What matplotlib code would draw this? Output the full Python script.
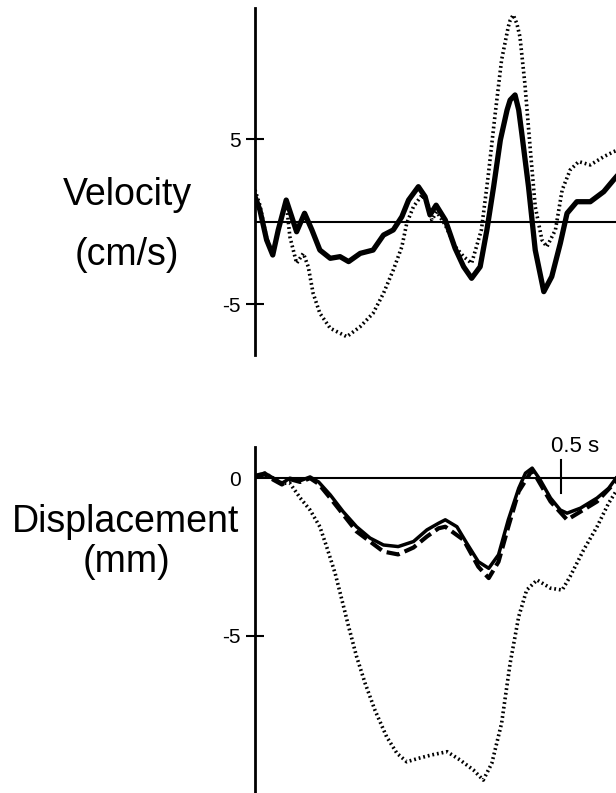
import matplotlib
matplotlib.use('Agg')
import matplotlib.pyplot as plt

plt.rcParams['font.family'] = ['Liberation Sans', 'DejaVu Sans']

# Швидкість, суцільна крива (час у секундах, см/с)
vel_solid_t = [0.000, 0.008, 0.019, 0.029, 0.038, 0.051, 0.060, 0.068, 0.081, 0.093,
               0.106, 0.123, 0.139, 0.153, 0.172, 0.193, 0.210, 0.226, 0.240, 0.251,
               0.267, 0.278, 0.286, 0.296, 0.311, 0.327, 0.341, 0.354, 0.368, 0.379,
               0.390, 0.401, 0.412, 0.417, 0.425, 0.431, 0.436, 0.447, 0.458, 0.472,
               0.485, 0.499, 0.510, 0.526, 0.548, 0.570, 0.586, 0.590]
vel_solid = [1.52, 0.71, -1.11, -2.02, -0.50, 1.31, 0.30, -0.61, 0.51, -0.50,
             -1.72, -2.22, -2.12, -2.42, -1.92, -1.72, -0.81, -0.50, 0.30, 1.31,
             2.12, 1.52, 0.41, 1.00, 0.10, -1.61, -2.73, -3.43, -2.73, -0.50,
             2.12, 4.95, 6.77, 7.37, 7.68, 6.77, 5.36, 2.12, -1.72, -4.24,
             -3.33, -1.31, 0.51, 1.21, 1.21, 1.82, 2.53, 2.70]

# Швидкість, пунктирна крива
vel_dot_t = [0.000, 0.008, 0.019, 0.029, 0.038, 0.051, 0.057, 0.068, 0.079, 0.087,
             0.095, 0.106, 0.123, 0.150, 0.172, 0.193, 0.210, 0.226, 0.240, 0.248,
             0.259, 0.273, 0.284, 0.289, 0.297, 0.311, 0.327, 0.341, 0.354, 0.370,
             0.381, 0.392, 0.403, 0.414, 0.417, 0.422, 0.428, 0.433, 0.441, 0.450,
             0.458, 0.469, 0.477, 0.491, 0.502, 0.515, 0.529, 0.548, 0.570, 0.586,
             0.590]
vel_dot = [1.92, 1.00, -1.00, -1.95, -0.50, 1.20, -0.91, -2.52, -1.92, -2.73,
           -4.34, -5.55, -6.46, -6.97, -6.36, -5.55, -4.34, -2.93, -1.52, -0.10,
           0.91, 1.62, 0.91, 0.10, 0.60, -0.20, -1.50, -2.12, -2.52, -0.50,
           2.73, 6.36, 9.80, 11.82, 12.20, 12.53, 12.00, 11.21, 8.39, 4.35,
           0.91, -1.11, -1.52, -0.50, 1.92, 3.13, 3.64, 3.44, 3.94, 4.24,
           4.30]

# Переміщення, суцільна крива (мм)
disp_solid_t = [0.000, 0.003, 0.016, 0.030, 0.044, 0.057, 0.074, 0.090, 0.104, 0.123,
                0.144, 0.166, 0.188, 0.210, 0.234, 0.259, 0.281, 0.300, 0.311, 0.330,
                0.346, 0.365, 0.382, 0.398, 0.414, 0.431, 0.442, 0.453, 0.466, 0.483,
                0.499, 0.510, 0.532, 0.559, 0.578, 0.590]
disp_solid = [0.05, 0.10, 0.16, 0.00, -0.16, 0.00, -0.08, 0.04, -0.12, -0.53,
              -1.06, -1.54, -1.90, -2.12, -2.17, -2.01, -1.64, -1.43, -1.32, -1.54,
              -2.06, -2.65, -2.86, -2.43, -1.32, -0.32, 0.16, 0.32, -0.05, -0.63,
              -1.01, -1.11, -0.95, -0.63, -0.32, 0.00]

# Переміщення, штрихова крива
disp_dash_t = [0.000, 0.016, 0.030, 0.044, 0.057, 0.074, 0.090, 0.104, 0.123, 0.166,
               0.210, 0.234, 0.259, 0.281, 0.300, 0.311, 0.341, 0.365, 0.382, 0.398,
               0.414, 0.431, 0.453, 0.483, 0.510, 0.532, 0.559, 0.590]
disp_dash = [0.05, 0.12, -0.05, -0.20, -0.03, -0.12, 0.00, -0.18, -0.63, -1.69,
             -2.33, -2.42, -2.20, -1.85, -1.59, -1.54, -1.96, -2.81, -3.17, -2.65,
             -1.54, -0.42, 0.26, -0.74, -1.32, -1.06, -0.74, -0.10]

# Переміщення, пунктирна крива
disp_dot_t = [0.000, 0.016, 0.030, 0.044, 0.057, 0.074, 0.090, 0.106, 0.117, 0.131,
              0.142, 0.153, 0.166, 0.180, 0.196, 0.215, 0.232, 0.248, 0.267, 0.289,
              0.314, 0.335, 0.357, 0.373, 0.387, 0.403, 0.417, 0.431, 0.444, 0.461,
              0.483, 0.502, 0.515, 0.537, 0.559, 0.578, 0.590]
disp_dot = [0.05, 0.16, 0.00, -0.16, -0.16, -0.63, -1.01, -1.54, -2.17, -3.02,
            -3.86, -4.71, -5.66, -6.51, -7.36, -8.20, -8.73, -9.00, -8.89, -8.78,
            -8.68, -8.94, -9.26, -9.58, -9.05, -7.78, -5.87, -4.39, -3.55, -3.23,
            -3.49, -3.55, -3.12, -2.28, -1.54, -0.79, -0.42]

vel_ticks = [5, -5]
disp_ticks = [0, -5]
scale_bar_t = 0.5

fig = plt.figure(figsize=(6.16, 7.93), dpi=100)
ax1 = fig.add_axes([255 / 616, 1 - 355 / 793, 361 / 616, 347 / 793])
ax2 = fig.add_axes([255 / 616, 0, 361 / 616, 346 / 793])

dotted = (0, (0.5, 0.8))

# Верхня панель: швидкість
ax1.axhline(0, color='black', lw=1.5, zorder=1)
ax1.plot(vel_dot_t, vel_dot, color='black', lw=2.6, linestyle=dotted, zorder=2)
ax1.plot(vel_solid_t, vel_solid, color='black', lw=3.8, zorder=3)
ax1.set_ylim(-8.08, 12.95)

# Нижня панель: переміщення
ax2.axhline(0, color='black', lw=1.5, zorder=1)
ax2.plot(disp_dot_t, disp_dot, color='black', lw=2.6, linestyle=dotted, zorder=2)
ax2.plot(disp_dash_t, disp_dash, color='black', lw=3.0, linestyle=(0, (3.2, 1.3)), zorder=3)
ax2.plot(disp_solid_t, disp_solid, color='black', lw=2.5, zorder=4)
ax2.set_ylim(-9.99, 0.99)

# Масштабна позначка 0.5 s
ax2.plot([scale_bar_t, scale_bar_t], [0.58, -0.47], color='black', lw=1.5, zorder=5)
ax2.text(scale_bar_t + 0.023, 0.99, '0.5 s', fontsize=16, ha='center', va='center')

for ax, ticks in ((ax1, vel_ticks), (ax2, disp_ticks)):
    ax.set_xlim(0, 0.590)
    for side in ('top', 'right', 'bottom'):
        ax.spines[side].set_visible(False)
    ax.spines['left'].set_linewidth(2)
    ax.set_xticks([])
    ax.set_yticks(ticks)
    ax.set_yticklabels([str(t) for t in ticks])
    ax.tick_params(axis='y', direction='inout', length=13, width=1.5, labelsize=15, pad=4)
    ax.patch.set_visible(False)

# Прибираємо рисочку біля нуля на нижній панелі
ax2.yaxis.get_major_ticks()[list(disp_ticks).index(0)].tick1line.set_visible(False)

fig.text(127 / 616, 1 - 195 / 793, 'Velocity', fontsize=27, ha='center', va='center')
fig.text(127 / 616, 1 - 255 / 793, '(cm/s)', fontsize=27, ha='center', va='center')
fig.text(126 / 616, 1 - 522 / 793, 'Displacement', fontsize=27, ha='center', va='center')
fig.text(126 / 616, 1 - 562 / 793, '(mm)', fontsize=27, ha='center', va='center')

fig.savefig('out.png', dpi=100)
